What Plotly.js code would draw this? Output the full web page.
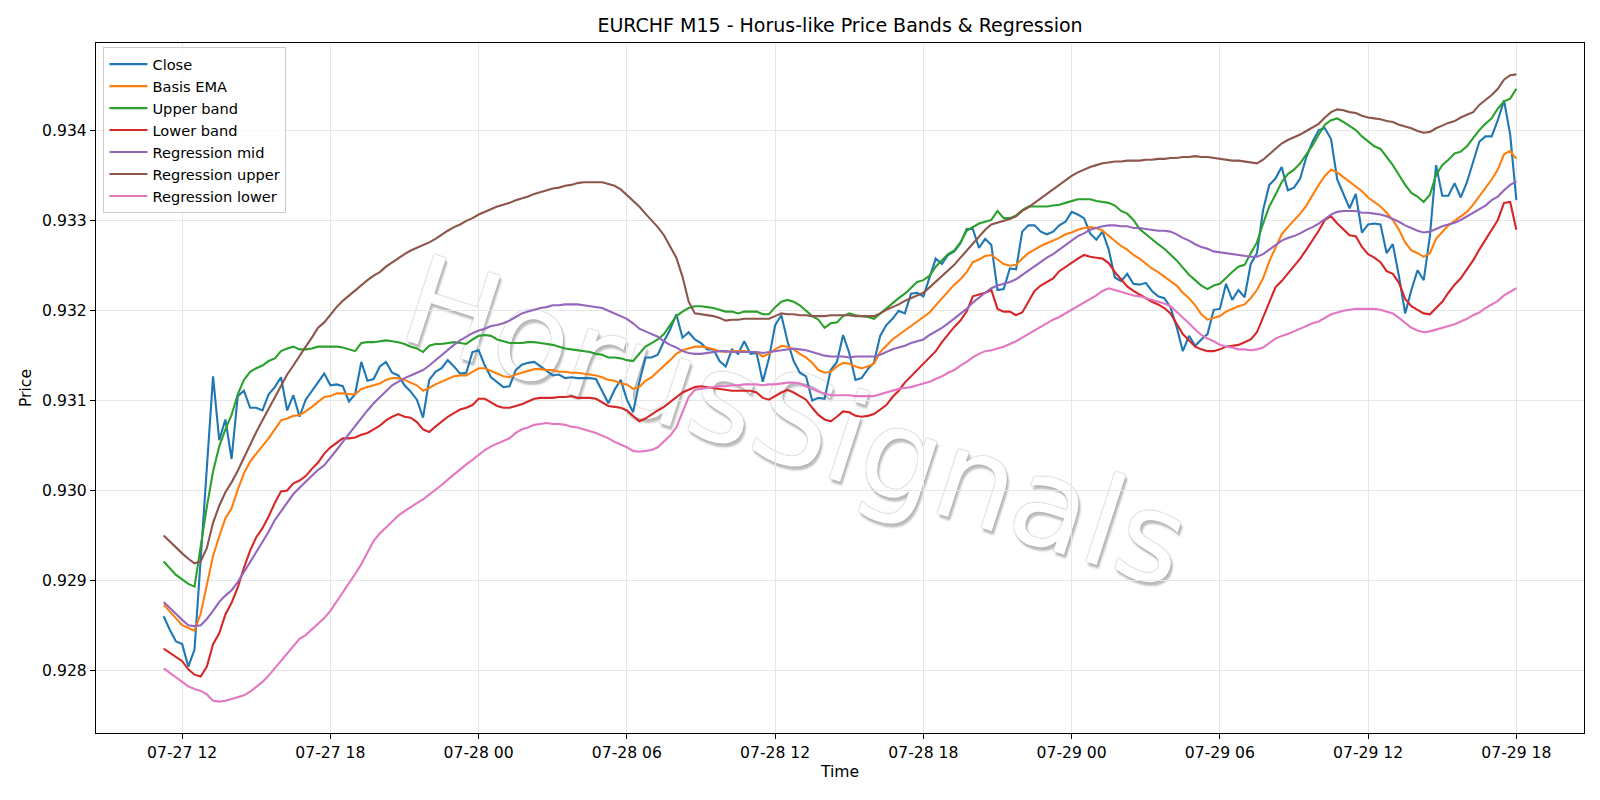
<!DOCTYPE html>
<html>
<head>
<meta charset="utf-8">
<script src="https://cdn.plot.ly/plotly-3.0.1.min.js"></script>
<style>
html,body{margin:0;padding:0;background:#fff;}
#chart{width:1600px;height:800px;}
</style>
</head>
<body>
<div id="chart"></div>
<script>
// ---- data (EURCHF M15, 15-minute bars starting 07-27 11:15) ----
const START_TIME = '2025-07-27 11:15';
const BAR_MINUTES = 15;

const close = [0.92860,0.92845,0.92832,0.92829,0.92804,0.92823,0.92924,0.93026,0.93127,0.93056,
0.93079,0.93035,0.93105,0.93111,0.93092,0.93092,0.93089,0.93107,0.93115,0.93126,
0.93089,0.93106,0.93082,0.93101,0.93111,0.93121,0.93130,0.93117,0.93118,0.93116,
0.93099,0.93107,0.93143,0.93122,0.93124,0.93138,0.93143,0.93131,0.93128,0.93117,
0.93110,0.93101,0.93081,0.93123,0.93132,0.93136,0.93145,0.93138,0.93130,0.93131,
0.93154,0.93156,0.93139,0.93126,0.93121,0.93115,0.93116,0.93134,0.93140,0.93142,
0.93143,0.93138,0.93132,0.93128,0.93129,0.93125,0.93126,0.93125,0.93125,0.93125,
0.93124,0.93111,0.93097,0.93112,0.93123,0.93101,0.93087,0.93120,0.93148,0.93148,
0.93151,0.93166,0.93179,0.93196,0.93170,0.93176,0.93168,0.93164,0.93157,0.93157,
0.93144,0.93138,0.93157,0.93152,0.93166,0.93152,0.93153,0.93121,0.93147,0.93184,
0.93195,0.93166,0.93144,0.93131,0.93127,0.93100,0.93103,0.93102,0.93134,0.93143,
0.93173,0.93153,0.93123,0.93125,0.93135,0.93142,0.93172,0.93184,0.93191,0.93200,
0.93197,0.93219,0.93220,0.93216,0.93236,0.93258,0.93252,0.93262,0.93266,0.93275,
0.93291,0.93291,0.93270,0.93280,0.93273,0.93223,0.93224,0.93247,0.93246,0.93288,
0.93295,0.93295,0.93288,0.93285,0.93288,0.93295,0.93299,0.93310,0.93307,0.93303,
0.93286,0.93279,0.93288,0.93268,0.93237,0.93233,0.93241,0.93230,0.93229,0.93231,
0.93222,0.93216,0.93214,0.93204,0.93182,0.93155,0.93172,0.93161,0.93168,0.93174,
0.93201,0.93202,0.93230,0.93212,0.93223,0.93215,0.93252,0.93264,0.93312,0.93340,
0.93347,0.93360,0.93334,0.93337,0.93347,0.93371,0.93388,0.93401,0.93403,0.93391,
0.93346,0.93329,0.93314,0.93330,0.93287,0.93296,0.93297,0.93296,0.93264,0.93274,
0.93238,0.93197,0.93223,0.93245,0.93234,0.93283,0.93362,0.93328,0.93328,0.93342,
0.93326,0.93343,0.93366,0.93388,0.93394,0.93394,0.93412,0.93434,0.93396,0.93323];

const basisEma = [0.92873,0.92865,0.92858,0.92850,0.92847,0.92844,0.92863,0.92895,0.92927,0.92949,
0.92969,0.92980,0.93001,0.93019,0.93032,0.93041,0.93049,0.93058,0.93068,0.93078,
0.93080,0.93083,0.93084,0.93088,0.93093,0.93099,0.93104,0.93105,0.93108,0.93108,
0.93107,0.93107,0.93113,0.93115,0.93117,0.93119,0.93123,0.93125,0.93125,0.93123,
0.93120,0.93117,0.93111,0.93114,0.93118,0.93121,0.93124,0.93127,0.93128,0.93128,
0.93132,0.93136,0.93136,0.93133,0.93130,0.93127,0.93126,0.93129,0.93131,0.93133,
0.93135,0.93135,0.93134,0.93134,0.93132,0.93132,0.93131,0.93131,0.93130,0.93129,
0.93128,0.93126,0.93123,0.93122,0.93119,0.93118,0.93113,0.93115,0.93122,0.93126,
0.93132,0.93139,0.93145,0.93152,0.93156,0.93158,0.93160,0.93160,0.93159,0.93157,
0.93155,0.93154,0.93155,0.93155,0.93155,0.93154,0.93154,0.93149,0.93152,0.93157,
0.93161,0.93160,0.93157,0.93152,0.93148,0.93142,0.93134,0.93131,0.93132,0.93138,
0.93142,0.93141,0.93138,0.93136,0.93138,0.93141,0.93154,0.93161,0.93168,0.93173,
0.93178,0.93184,0.93189,0.93193,0.93198,0.93206,0.93214,0.93222,0.93229,0.93235,
0.93243,0.93254,0.93257,0.93261,0.93262,0.93257,0.93252,0.93250,0.93251,0.93258,
0.93264,0.93268,0.93272,0.93275,0.93278,0.93281,0.93285,0.93287,0.93290,0.93292,
0.93293,0.93292,0.93289,0.93283,0.93278,0.93272,0.93268,0.93262,0.93258,0.93252,
0.93247,0.93243,0.93238,0.93233,0.93228,0.93220,0.93214,0.93206,0.93196,0.93190,
0.93192,0.93194,0.93199,0.93202,0.93205,0.93207,0.93214,0.93223,0.93236,0.93255,
0.93271,0.93285,0.93293,0.93300,0.93308,0.93317,0.93329,0.93340,0.93350,0.93357,
0.93354,0.93349,0.93343,0.93339,0.93333,0.93326,0.93321,0.93316,0.93309,0.93301,
0.93290,0.93276,0.93267,0.93264,0.93260,0.93264,0.93280,0.93288,0.93295,0.93300,
0.93305,0.93310,0.93318,0.93327,0.93337,0.93346,0.93357,0.93374,0.93378,0.93369];

const upperBand = [0.92921,0.92914,0.92906,0.92901,0.92896,0.92893,0.92938,0.92982,0.93021,0.93049,
0.93068,0.93084,0.93107,0.93123,0.93132,0.93136,0.93139,0.93144,0.93147,0.93155,
0.93158,0.93160,0.93157,0.93157,0.93158,0.93160,0.93160,0.93160,0.93160,0.93159,
0.93157,0.93155,0.93164,0.93165,0.93165,0.93166,0.93167,0.93166,0.93165,0.93163,
0.93160,0.93158,0.93154,0.93161,0.93163,0.93163,0.93164,0.93165,0.93164,0.93163,
0.93168,0.93172,0.93173,0.93172,0.93168,0.93166,0.93164,0.93164,0.93164,0.93165,
0.93165,0.93164,0.93163,0.93162,0.93160,0.93158,0.93157,0.93156,0.93155,0.93154,
0.93152,0.93151,0.93148,0.93148,0.93147,0.93145,0.93144,0.93152,0.93160,0.93164,
0.93168,0.93174,0.93184,0.93194,0.93199,0.93203,0.93205,0.93205,0.93204,0.93203,
0.93201,0.93199,0.93199,0.93197,0.93199,0.93199,0.93199,0.93196,0.93196,0.93204,
0.93210,0.93212,0.93210,0.93206,0.93200,0.93194,0.93190,0.93181,0.93186,0.93187,
0.93194,0.93197,0.93195,0.93194,0.93193,0.93191,0.93197,0.93202,0.93209,0.93214,
0.93219,0.93225,0.93232,0.93234,0.93239,0.93249,0.93256,0.93263,0.93267,0.93276,
0.93289,0.93293,0.93297,0.93299,0.93301,0.93311,0.93303,0.93303,0.93306,0.93312,
0.93316,0.93316,0.93316,0.93316,0.93317,0.93318,0.93320,0.93322,0.93324,0.93324,
0.93324,0.93322,0.93321,0.93320,0.93317,0.93311,0.93308,0.93301,0.93291,0.93285,
0.93279,0.93274,0.93269,0.93263,0.93256,0.93248,0.93240,0.93234,0.93228,0.93224,
0.93228,0.93230,0.93237,0.93243,0.93249,0.93251,0.93264,0.93276,0.93297,0.93316,
0.93329,0.93343,0.93352,0.93357,0.93364,0.93374,0.93384,0.93396,0.93407,0.93412,
0.93414,0.93410,0.93405,0.93401,0.93394,0.93388,0.93383,0.93380,0.93371,0.93362,
0.93351,0.93340,0.93331,0.93327,0.93321,0.93329,0.93351,0.93362,0.93368,0.93375,
0.93377,0.93383,0.93392,0.93401,0.93408,0.93414,0.93425,0.93433,0.93436,0.93447];

const lowerBand = [0.92824,0.92819,0.92814,0.92810,0.92801,0.92795,0.92793,0.92804,0.92829,0.92841,
0.92862,0.92875,0.92892,0.92914,0.92933,0.92948,0.92958,0.92971,0.92986,0.92999,
0.93000,0.93008,0.93011,0.93016,0.93024,0.93031,0.93041,0.93048,0.93053,0.93058,
0.93058,0.93059,0.93062,0.93064,0.93068,0.93072,0.93078,0.93082,0.93085,0.93082,
0.93081,0.93076,0.93068,0.93065,0.93071,0.93077,0.93082,0.93086,0.93090,0.93092,
0.93095,0.93102,0.93102,0.93098,0.93094,0.93092,0.93092,0.93094,0.93096,0.93099,
0.93102,0.93103,0.93103,0.93103,0.93104,0.93104,0.93105,0.93103,0.93103,0.93103,
0.93102,0.93098,0.93094,0.93093,0.93092,0.93089,0.93083,0.93077,0.93080,0.93085,
0.93089,0.93093,0.93098,0.93104,0.93109,0.93112,0.93115,0.93116,0.93115,0.93114,
0.93113,0.93112,0.93111,0.93111,0.93111,0.93111,0.93109,0.93103,0.93101,0.93105,
0.93109,0.93112,0.93109,0.93105,0.93101,0.93092,0.93084,0.93079,0.93077,0.93082,
0.93088,0.93087,0.93083,0.93082,0.93083,0.93085,0.93090,0.93095,0.93104,0.93111,
0.93120,0.93127,0.93134,0.93140,0.93147,0.93155,0.93165,0.93174,0.93182,0.93189,
0.93199,0.93216,0.93218,0.93220,0.93223,0.93202,0.93199,0.93199,0.93195,0.93198,
0.93210,0.93222,0.93228,0.93232,0.93236,0.93244,0.93249,0.93253,0.93258,0.93262,
0.93260,0.93259,0.93258,0.93253,0.93243,0.93235,0.93227,0.93222,0.93218,0.93214,
0.93210,0.93207,0.93203,0.93197,0.93186,0.93174,0.93167,0.93160,0.93157,0.93155,
0.93155,0.93157,0.93160,0.93161,0.93162,0.93165,0.93168,0.93176,0.93192,0.93210,
0.93226,0.93233,0.93241,0.93249,0.93258,0.93268,0.93278,0.93289,0.93301,0.93305,
0.93297,0.93290,0.93284,0.93283,0.93271,0.93263,0.93259,0.93254,0.93244,0.93241,
0.93231,0.93213,0.93205,0.93201,0.93197,0.93196,0.93203,0.93210,0.93220,0.93229,
0.93236,0.93246,0.93256,0.93268,0.93279,0.93290,0.93301,0.93320,0.93321,0.93290];

const regMid = [0.92876,0.92869,0.92862,0.92856,0.92850,0.92849,0.92850,0.92857,0.92866,0.92876,
0.92883,0.92889,0.92898,0.92909,0.92921,0.92932,0.92943,0.92954,0.92967,0.92977,
0.92987,0.92996,0.93003,0.93010,0.93017,0.93023,0.93028,0.93036,0.93045,0.93054,
0.93063,0.93072,0.93081,0.93089,0.93097,0.93104,0.93111,0.93117,0.93121,0.93125,
0.93128,0.93131,0.93134,0.93139,0.93145,0.93151,0.93157,0.93162,0.93167,0.93171,
0.93175,0.93178,0.93180,0.93183,0.93184,0.93186,0.93189,0.93193,0.93197,0.93199,
0.93201,0.93203,0.93204,0.93206,0.93206,0.93207,0.93207,0.93207,0.93206,0.93205,
0.93204,0.93203,0.93200,0.93197,0.93194,0.93191,0.93186,0.93180,0.93177,0.93174,
0.93171,0.93166,0.93162,0.93159,0.93155,0.93153,0.93152,0.93152,0.93153,0.93154,
0.93155,0.93155,0.93154,0.93154,0.93154,0.93154,0.93154,0.93153,0.93154,0.93155,
0.93156,0.93157,0.93158,0.93157,0.93156,0.93154,0.93152,0.93150,0.93149,0.93149,
0.93149,0.93148,0.93149,0.93149,0.93149,0.93149,0.93151,0.93154,0.93157,0.93159,
0.93161,0.93164,0.93166,0.93168,0.93173,0.93177,0.93181,0.93186,0.93191,0.93196,
0.93202,0.93209,0.93215,0.93220,0.93225,0.93228,0.93230,0.93232,0.93235,0.93240,
0.93245,0.93250,0.93254,0.93259,0.93263,0.93268,0.93273,0.93278,0.93283,0.93286,
0.93290,0.93292,0.93294,0.93295,0.93295,0.93294,0.93294,0.93292,0.93292,0.93291,
0.93290,0.93289,0.93289,0.93288,0.93285,0.93281,0.93278,0.93274,0.93271,0.93269,
0.93266,0.93265,0.93264,0.93263,0.93262,0.93261,0.93260,0.93260,0.93263,0.93268,
0.93273,0.93278,0.93281,0.93283,0.93286,0.93290,0.93293,0.93297,0.93302,0.93307,
0.93310,0.93311,0.93311,0.93311,0.93309,0.93309,0.93308,0.93307,0.93305,0.93302,
0.93299,0.93295,0.93292,0.93289,0.93287,0.93288,0.93291,0.93294,0.93296,0.93298,
0.93301,0.93305,0.93309,0.93313,0.93317,0.93323,0.93327,0.93334,0.93340,0.93344];

const regUpper = [0.92950,0.92943,0.92937,0.92930,0.92924,0.92919,0.92921,0.92936,0.92964,0.92983,
0.92998,0.93009,0.93022,0.93037,0.93051,0.93065,0.93078,0.93091,0.93104,0.93117,
0.93129,0.93139,0.93150,0.93160,0.93170,0.93181,0.93187,0.93196,0.93204,0.93211,
0.93217,0.93222,0.93229,0.93234,0.93239,0.93243,0.93249,0.93254,0.93259,0.93263,
0.93267,0.93270,0.93273,0.93276,0.93280,0.93285,0.93289,0.93293,0.93296,0.93300,
0.93303,0.93307,0.93310,0.93313,0.93316,0.93318,0.93320,0.93323,0.93325,0.93327,
0.93330,0.93332,0.93334,0.93336,0.93337,0.93339,0.93340,0.93342,0.93343,0.93343,
0.93343,0.93343,0.93341,0.93339,0.93335,0.93329,0.93322,0.93316,0.93308,0.93301,
0.93293,0.93284,0.93272,0.93259,0.93238,0.93210,0.93197,0.93196,0.93195,0.93194,
0.93192,0.93189,0.93190,0.93190,0.93191,0.93191,0.93191,0.93191,0.93191,0.93194,
0.93197,0.93196,0.93196,0.93195,0.93195,0.93194,0.93194,0.93194,0.93195,0.93195,
0.93195,0.93195,0.93194,0.93194,0.93194,0.93194,0.93197,0.93201,0.93204,0.93207,
0.93211,0.93214,0.93217,0.93220,0.93226,0.93232,0.93238,0.93244,0.93251,0.93259,
0.93267,0.93275,0.93283,0.93290,0.93296,0.93298,0.93300,0.93302,0.93305,0.93311,
0.93315,0.93320,0.93325,0.93330,0.93335,0.93340,0.93345,0.93350,0.93354,0.93357,
0.93360,0.93362,0.93364,0.93365,0.93366,0.93366,0.93367,0.93367,0.93367,0.93368,
0.93368,0.93369,0.93369,0.93370,0.93370,0.93371,0.93371,0.93372,0.93371,0.93371,
0.93370,0.93369,0.93368,0.93367,0.93367,0.93366,0.93365,0.93364,0.93368,0.93374,
0.93380,0.93386,0.93390,0.93393,0.93396,0.93400,0.93404,0.93408,0.93415,0.93421,
0.93424,0.93423,0.93421,0.93420,0.93417,0.93415,0.93414,0.93413,0.93411,0.93410,
0.93407,0.93405,0.93403,0.93400,0.93398,0.93399,0.93403,0.93406,0.93409,0.93411,
0.93415,0.93418,0.93421,0.93429,0.93434,0.93440,0.93447,0.93457,0.93462,0.93463];

const regLower = [0.92802,0.92797,0.92791,0.92786,0.92782,0.92779,0.92777,0.92773,0.92766,0.92765,
0.92766,0.92768,0.92770,0.92772,0.92776,0.92781,0.92787,0.92794,0.92802,0.92810,
0.92818,0.92826,0.92835,0.92839,0.92845,0.92852,0.92858,0.92866,0.92876,0.92886,
0.92896,0.92907,0.92918,0.92931,0.92944,0.92952,0.92959,0.92965,0.92972,0.92977,
0.92982,0.92986,0.92990,0.92995,0.93000,0.93006,0.93012,0.93018,0.93023,0.93029,
0.93034,0.93040,0.93045,0.93049,0.93052,0.93055,0.93058,0.93064,0.93068,0.93070,
0.93073,0.93074,0.93075,0.93074,0.93074,0.93073,0.93071,0.93070,0.93068,0.93066,
0.93064,0.93061,0.93058,0.93054,0.93051,0.93048,0.93044,0.93043,0.93044,0.93045,
0.93048,0.93054,0.93061,0.93070,0.93086,0.93104,0.93112,0.93113,0.93114,0.93115,
0.93116,0.93116,0.93117,0.93117,0.93118,0.93118,0.93118,0.93117,0.93118,0.93118,
0.93119,0.93120,0.93120,0.93119,0.93116,0.93113,0.93110,0.93108,0.93106,0.93106,
0.93106,0.93106,0.93105,0.93105,0.93105,0.93105,0.93107,0.93109,0.93111,0.93113,
0.93114,0.93115,0.93117,0.93119,0.93121,0.93124,0.93127,0.93131,0.93134,0.93139,
0.93143,0.93148,0.93152,0.93155,0.93156,0.93158,0.93160,0.93163,0.93166,0.93170,
0.93174,0.93178,0.93182,0.93186,0.93190,0.93193,0.93197,0.93201,0.93205,0.93209,
0.93213,0.93217,0.93222,0.93225,0.93223,0.93221,0.93219,0.93217,0.93216,0.93214,
0.93212,0.93210,0.93208,0.93205,0.93199,0.93193,0.93186,0.93179,0.93173,0.93169,
0.93166,0.93162,0.93160,0.93159,0.93157,0.93157,0.93156,0.93157,0.93159,0.93164,
0.93169,0.93172,0.93174,0.93177,0.93180,0.93183,0.93186,0.93188,0.93192,0.93196,
0.93198,0.93200,0.93201,0.93202,0.93202,0.93202,0.93202,0.93201,0.93199,0.93197,
0.93192,0.93186,0.93181,0.93178,0.93176,0.93177,0.93179,0.93181,0.93183,0.93185,
0.93188,0.93191,0.93195,0.93198,0.93203,0.93207,0.93211,0.93217,0.93221,0.93225];

const seriesNames = ['Close','Basis EMA','Upper band','Lower band','Regression mid','Regression upper','Regression lower'];
const seriesColors = ['#1f77b4','#ff7f0e','#2ca02c','#d62728','#9467bd','#8c564b','#e377c2'];
const chartTitle = 'EURCHF M15 - Horus-like Price Bands & Regression';
const watermarkText = 'HorusSignals';

// ---- time axis: one timestamp per bar ----
function pad(n){return (n<10?'0':'')+n;}
function fmt(ms){const d=new Date(ms);return d.getUTCFullYear()+'-'+pad(d.getUTCMonth()+1)+'-'+pad(d.getUTCDate())+' '+pad(d.getUTCHours())+':'+pad(d.getUTCMinutes())+':'+pad(d.getUTCSeconds());}
const t0 = Date.parse(START_TIME.replace(' ','T')+':00Z');
const times = close.map((_,i)=>fmt(t0 + i*BAR_MINUTES*60000));

const allSeries = [close,basisEma,upperBand,lowerBand,regMid,regUpper,regLower];
const traces = allSeries.map((ys,k)=>({
  type:'scatter', mode:'lines', x:times, y:ys, name:seriesNames[k],
  line:{color:seriesColors[k], width:2.1}, hoverinfo:'x+y+name'
}));

// matplotlib-like 5% margins
const tFirst = t0, tLast = t0 + (close.length-1)*BAR_MINUTES*60000;
const tPad = (tLast-tFirst)*0.05;
let ymin=Infinity, ymax=-Infinity;
allSeries.forEach(s=>s.forEach(v=>{if(v<ymin)ymin=v;if(v>ymax)ymax=v;}));
const yPad=(ymax-ymin)*0.05;

const FONT = 'DejaVu Sans, sans-serif';
const TICK = 15.6;
const layout = {
  width:1600, height:800,
  margin:{l:96, r:16, t:43, b:67, pad:0},
  paper_bgcolor:'#ffffff', plot_bgcolor:'#ffffff',
  font:{family:FONT, size:TICK, color:'#000'},
  title:{text:chartTitle, font:{family:FONT, size:19, color:'#000'}, x:0.5, xref:'paper', xanchor:'center', y:1-25/800, yref:'container', yanchor:'middle'},
  showlegend:true,
  legend:{x:0.005, y:0.994, xanchor:'left', yanchor:'top', bgcolor:'rgba(255,255,255,0.8)', bordercolor:'#cccccc', borderwidth:1, font:{family:FONT, size:14.6, color:'#000'}, itemwidth:38, tracegroupgap:0},
  xaxis:{
    type:'date', range:[fmt(tFirst-tPad), fmt(tLast+tPad)],
    tickformat:'%m-%d %H', tick0:'2025-07-27 00:00', dtick:6*3600*1000,
    showgrid:true, gridcolor:'#e6e6e6', gridwidth:1,
    showline:true, linecolor:'#000', linewidth:1.1, mirror:true,
    ticks:'outside', ticklen:5, tickwidth:1, tickcolor:'#000',
    tickfont:{family:FONT, size:TICK, color:'#000'},
    zeroline:false,
    title:{text:'Time', font:{family:FONT, size:TICK, color:'#000'}, standoff:5}
  },
  yaxis:{
    range:[ymin-yPad, ymax+yPad],
    tickformat:'.3f', tick0:0.928, dtick:0.001,
    showgrid:true, gridcolor:'#e6e6e6', gridwidth:1,
    showline:true, linecolor:'#000', linewidth:1.1, mirror:true,
    ticks:'outside', ticklen:5, tickwidth:1, tickcolor:'#000',
    tickfont:{family:FONT, size:TICK, color:'#000'},
    zeroline:false,
    title:{text:'Price', font:{family:FONT, size:TICK, color:'#000'}, standoff:6}
  },
  annotations:[{
    text:watermarkText, xref:'paper', yref:'paper', x:0.470, y:0.452,
    xanchor:'center', yanchor:'middle', showarrow:false, textangle:18,
    font:{family:FONT, size:125, color:'#ffffff',
      shadow:'0 0 1.2px rgba(120,120,120,0.95), 3px 3px 2px rgba(110,110,110,0.45)'}
  }]
};

Plotly.newPlot('chart', traces, layout, {displayModeBar:false, staticPlot:true}).then(function(gd){
  // place the watermark underneath the data lines (as in the original figure)
  var ann = gd.querySelector('g.annotation');
  var below = gd.querySelector('.main-svg > .layer-below');
  if (ann && below) below.appendChild(ann);
});
</script>
</body>
</html>
